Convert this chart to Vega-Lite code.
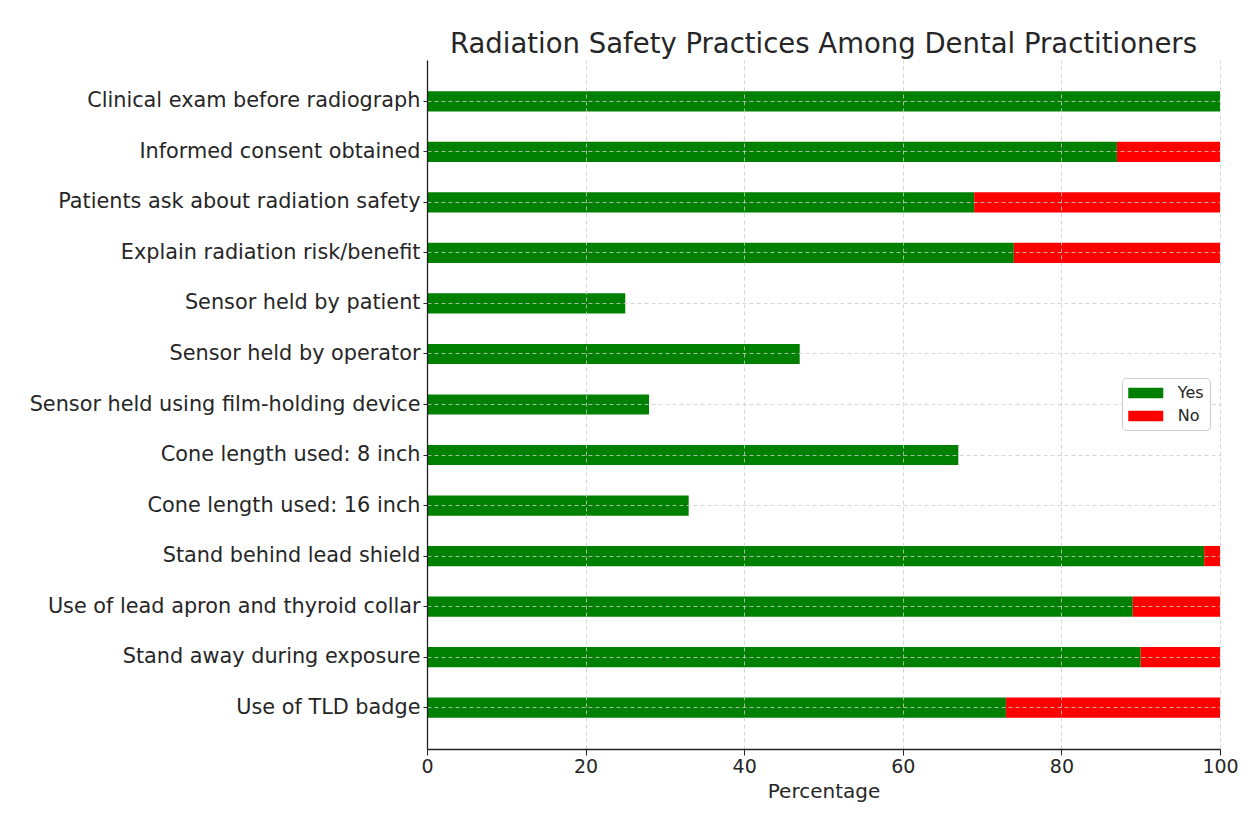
{
  "$schema": "https://vega.github.io/schema/vega-lite/v6.json",
  "width": 793,
  "height": 689,
  "autosize": {"type": "none"},
  "padding": {"left": 427, "top": 60, "right": 37, "bottom": 64},
  "background": "white",
  "title": {
    "text": "Radiation Safety Practices Among Dental Practitioners",
    "font": "DejaVu Sans",
    "fontSize": 27.5,
    "fontWeight": "normal",
    "color": "#262626",
    "anchor": "middle",
    "offset": 2
  },
  "data": {
    "values": [
      {"practice": "Clinical exam before radiograph", "answer": "Yes", "pct": 100},
      {"practice": "Clinical exam before radiograph", "answer": "No", "pct": 0},
      {"practice": "Informed consent obtained", "answer": "Yes", "pct": 87},
      {"practice": "Informed consent obtained", "answer": "No", "pct": 13},
      {"practice": "Patients ask about radiation safety", "answer": "Yes", "pct": 69},
      {"practice": "Patients ask about radiation safety", "answer": "No", "pct": 31},
      {"practice": "Explain radiation risk/benefit", "answer": "Yes", "pct": 74},
      {"practice": "Explain radiation risk/benefit", "answer": "No", "pct": 26},
      {"practice": "Sensor held by patient", "answer": "Yes", "pct": 25},
      {"practice": "Sensor held by operator", "answer": "Yes", "pct": 47},
      {"practice": "Sensor held using film-holding device", "answer": "Yes", "pct": 28},
      {"practice": "Cone length used: 8 inch", "answer": "Yes", "pct": 67},
      {"practice": "Cone length used: 16 inch", "answer": "Yes", "pct": 33},
      {"practice": "Stand behind lead shield", "answer": "Yes", "pct": 98},
      {"practice": "Stand behind lead shield", "answer": "No", "pct": 2},
      {"practice": "Use of lead apron and thyroid collar", "answer": "Yes", "pct": 89},
      {"practice": "Use of lead apron and thyroid collar", "answer": "No", "pct": 11},
      {"practice": "Stand away during exposure", "answer": "Yes", "pct": 90},
      {"practice": "Stand away during exposure", "answer": "No", "pct": 10},
      {"practice": "Use of TLD badge", "answer": "Yes", "pct": 73},
      {"practice": "Use of TLD badge", "answer": "No", "pct": 27}
    ]
  },
  "mark": {"type": "bar"},
  "encoding": {
    "y": {
      "field": "practice",
      "type": "nominal",
      "sort": null,
      "scale": {"paddingInner": 0.6, "paddingOuter": 0.62},
      "axis": {
        "title": null,
        "bandPosition": 0.5,
        "grid": true,
        "gridDash": [4, 3],
        "gridColor": "#cccccc",
        "gridOpacity": 0.8,
        "labelFont": "DejaVu Sans",
        "labelFontSize": 20.8,
        "labelColor": "#262626",
        "labelPadding": 3,
        "labelLimit": 500,
        "tickSize": 4,
        "tickColor": "#222222",
        "domainColor": "#222222",
        "domainWidth": 1.3,
        "zindex": 1
      }
    },
    "x": {
      "field": "pct",
      "type": "quantitative",
      "stack": "zero",
      "scale": {"domain": [0, 100], "nice": false},
      "axis": {
        "title": "Percentage",
        "titleFont": "DejaVu Sans",
        "titleFontSize": 20,
        "titleFontWeight": "normal",
        "titleColor": "#262626",
        "titlePadding": 5,
        "values": [0, 20, 40, 60, 80, 100],
        "grid": true,
        "gridDash": [4, 3],
        "gridColor": "#cccccc",
        "gridOpacity": 0.8,
        "labelFont": "DejaVu Sans",
        "labelFontSize": 19,
        "labelColor": "#262626",
        "labelPadding": 2,
        "labelFlush": false,
        "tickSize": 6,
        "tickColor": "#222222",
        "domainColor": "#222222",
        "domainWidth": 1.3,
        "zindex": 1
      }
    },
    "color": {
      "field": "answer",
      "type": "nominal",
      "scale": {"domain": ["Yes", "No"], "range": ["#008000", "#ff0000"]},
      "legend": {
        "title": null,
        "orient": "none",
        "legendX": 695,
        "legendY": 318,
        "zindex": 3,
        "symbolType": "M-2,-0.6H2V0.6H-2Z",
        "symbolSize": 306,
        "symbolOffset": 8.75,
        "symbolStrokeWidth": 0,
        "labelFont": "DejaVu Sans",
        "labelFontSize": 16,
        "labelColor": "#262626",
        "labelOffset": 23,
        "rowPadding": 6,
        "padding": 6,
        "fillColor": "white",
        "strokeColor": "#cccccc",
        "cornerRadius": 4
      }
    },
    "order": {"field": "answer", "sort": "descending"}
  },
  "config": {
    "view": {"stroke": null}
  }
}
